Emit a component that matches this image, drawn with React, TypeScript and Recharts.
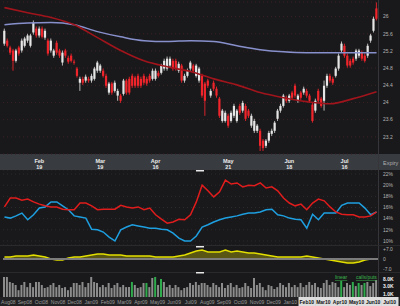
import {
  Area,
  Bar,
  BarChart,
  CartesianGrid,
  Cell,
  ComposedChart,
  Line,
  LineChart,
  ReferenceLine,
  XAxis,
  YAxis,
} from "recharts";

// daily candles, oldest first
const open = [
  25.37, 25.44, 25.28, 25.21, 24.97, 25.28, 25.21, 25.32, 25.44, 25.32,
  25.63, 25.72, 25.56, 25.72, 25.51, 25.44, 25.21, 25.09, 25.39, 25.21,
  24.93, 25.21, 25.04, 25.09, 24.95, 24.79, 24.46, 24.55, 24.51, 24.55,
  24.51, 24.55, 24.74, 24.74, 24.74, 24.62, 24.23, 24.44, 24.27, 24.16,
  24.16, 24.2, 24.51, 24.55, 24.62, 24.58, 24.62, 24.55, 24.62, 24.55,
  24.62, 24.55, 24.55, 24.69, 24.69, 24.79, 24.79, 24.86, 24.97, 24.97,
  24.74, 24.86, 24.51, 24.62, 24.79, 24.86, 24.62, 24.51, 24.62, 24.44,
  24.51, 24.16, 24.46, 24.32, 24.09, 23.57, 23.57, 23.69, 23.57, 23.69,
  23.57, 23.92, 23.81, 23.92, 23.81, 23.46, 23.34, 23.34, 23.34, 23.11,
  22.99, 23.11, 23.27, 23.34, 23.62, 23.81, 23.92, 24.11, 24.04, 24.23,
  24.39, 24.04, 24.23, 24.23, 24.27, 24.16, 23.95, 23.81, 24.27, 24.09,
  24.04, 24.39, 24.62, 24.55, 24.62, 24.79, 25.21, 25.32, 25.09, 24.97,
  25.02, 25.02, 25.09, 25.16, 25.09, 25.09, 25.44, 25.67, 26.19,
];
const high = [
  25.72, 25.49, 25.32, 25.25, 25.25, 25.32, 25.49, 25.53, 25.6, 25.6,
  25.91, 25.77, 25.77, 25.77, 25.72, 25.49, 25.49, 25.25, 25.44, 25.25,
  25.21, 25.25, 25.09, 25.14, 25.0, 24.83, 24.6, 24.6, 24.65, 24.6,
  24.67, 24.83, 24.97, 24.9, 24.79, 24.67, 24.48, 24.48, 24.51, 24.32,
  24.2, 24.55, 24.55, 24.6, 24.67, 24.62, 24.67, 24.6, 24.67, 24.6,
  24.67, 24.79, 24.79, 24.74, 24.9, 25.02, 25.07, 25.07, 25.02, 25.02,
  24.95, 24.9, 24.67, 24.79, 24.97, 24.9, 24.9, 24.83, 24.67, 24.48,
  24.55, 24.32, 24.51, 24.37, 24.13, 23.85, 23.81, 23.74, 23.81, 23.97,
  23.85, 23.97, 24.04, 23.97, 23.85, 23.74, 23.62, 23.5, 23.39, 23.15,
  23.15, 23.34, 23.39, 23.57, 23.85, 23.97, 24.2, 24.16, 24.2, 24.27,
  24.44, 24.2, 24.27, 24.37, 24.32, 24.2, 23.99, 24.09, 24.32, 24.13,
  24.51, 24.67, 24.67, 24.6, 24.83, 25.14, 25.42, 25.37, 25.14, 25.02,
  25.07, 25.25, 25.25, 25.21, 25.14, 25.37, 25.6, 26.0, 26.33,
];
const low = [
  25.32, 25.28, 25.11, 24.74, 24.93, 25.09, 25.16, 25.28, 25.39, 25.28,
  25.58, 25.51, 25.51, 25.49, 25.46, 25.09, 25.16, 25.04, 25.11, 25.04,
  24.86, 25.04, 24.9, 24.93, 24.88, 24.58, 24.27, 24.41, 24.46, 24.46,
  24.46, 24.51, 24.69, 24.69, 24.58, 24.34, 24.18, 24.18, 24.23, 24.04,
  23.99, 24.16, 24.18, 24.18, 24.34, 24.34, 24.34, 24.34, 24.41, 24.39,
  24.46, 24.51, 24.51, 24.58, 24.65, 24.74, 24.74, 24.81, 24.74, 24.74,
  24.69, 24.46, 24.46, 24.58, 24.74, 24.69, 24.58, 24.46, 24.11, 23.69,
  24.34, 24.11, 24.27, 24.11, 23.64, 23.53, 23.53, 23.41, 23.53, 23.64,
  23.53, 23.71, 23.76, 23.57, 23.64, 23.41, 23.29, 23.29, 22.87, 22.87,
  22.94, 23.06, 23.22, 23.29, 23.57, 23.76, 23.88, 23.99, 23.99, 24.06,
  24.11, 23.99, 24.06, 24.18, 24.11, 23.99, 23.53, 23.76, 23.99, 23.88,
  23.81, 24.34, 24.46, 24.41, 24.58, 24.74, 25.16, 25.04, 24.81, 24.81,
  24.88, 24.97, 25.04, 24.97, 24.93, 25.04, 25.39, 25.63, 25.91,
];
const close = [
  25.67, 25.32, 25.16, 24.97, 25.21, 25.14, 25.44, 25.49, 25.56, 25.56,
  25.86, 25.56, 25.72, 25.53, 25.67, 25.14, 25.44, 25.21, 25.16, 25.09,
  25.16, 25.09, 24.95, 24.97, 24.93, 24.62, 24.55, 24.46, 24.6, 24.51,
  24.62, 24.79, 24.93, 24.86, 24.62, 24.39, 24.44, 24.23, 24.46, 24.27,
  24.04, 24.51, 24.23, 24.23, 24.39, 24.39, 24.39, 24.39, 24.46, 24.44,
  24.51, 24.74, 24.74, 24.62, 24.86, 24.97, 25.02, 25.02, 24.79, 24.79,
  24.9, 24.51, 24.62, 24.74, 24.93, 24.74, 24.86, 24.79, 24.16, 24.04,
  24.39, 24.27, 24.32, 24.16, 23.69, 23.81, 23.76, 23.46, 23.76, 23.92,
  23.81, 23.76, 23.99, 23.62, 23.69, 23.69, 23.57, 23.46, 22.99, 22.94,
  23.11, 23.29, 23.34, 23.53, 23.81, 23.92, 24.16, 24.04, 24.16, 24.11,
  24.16, 24.16, 24.11, 24.32, 24.16, 24.04, 23.57, 24.04, 24.04, 23.92,
  24.39, 24.62, 24.51, 24.46, 24.79, 25.09, 25.37, 25.09, 24.86, 24.86,
  24.93, 25.21, 25.21, 25.02, 24.97, 25.32, 25.56, 25.95, 25.95,
];

const maDays = [0, 8, 16, 24, 32, 40, 48, 56, 64, 72, 80, 88, 96, 104, 112, 120, 128];
const maFast = [26.21, 26.09, 25.98, 25.81, 25.51, 25.21, 24.97, 24.83, 24.72, 24.55, 24.41, 24.23, 24.11, 24.02, 23.97, 24.09, 24.25];
const maSlow = [25.81, 25.85, 25.86, 25.81, 25.65, 25.53, 25.44, 25.42, 25.44, 25.42, 25.32, 25.23, 25.18, 25.16, 25.16, 25.16, 25.16];

const priceTicks = [23.2, 23.6, 24, 24.4, 24.8, 25.2, 25.6, 26];
const expiryDays = [12, 33, 52, 77, 98, 117];
const expiryMonths = ["Feb", "Mar", "Apr", "May", "Jun", "Jul"];
const expiryDates = ["19", "19", "16", "21", "18", "16"];

// volatility panel, every second session
const ivRed = [
  16.1, 17.7, 17.7, 17.3, 17.5, 17.0, 16.6, 16.3, 16.1, 16.1,
  15.7, 15.6, 15.6, 16.8, 16.8, 16.3, 15.6, 15.7, 15.7, 15.7,
  16.4, 16.1, 15.9, 16.1, 15.6, 15.9, 14.7, 13.9, 13.2, 13.4,
  13.9, 13.8, 14.7, 17.0, 20.0, 19.0, 17.9, 18.8, 20.9, 20.2,
  20.4, 19.7, 20.0, 19.9, 20.4, 19.5, 19.7, 19.0, 17.7, 16.8,
  16.3, 16.6, 15.6, 16.8, 17.5, 17.2, 16.1, 15.2, 14.8, 14.7,
  14.7, 14.3, 14.3, 14.5, 15.2,
];
const ivBlue = [
  14.3, 14.1, 14.5, 15.0, 13.8, 14.7, 15.9, 16.1, 17.0, 17.0,
  16.3, 15.6, 14.5, 14.3, 14.1, 12.1, 12.0, 11.6, 10.7, 10.0,
  12.0, 12.5, 12.9, 12.7, 12.5, 12.3, 12.3, 12.1, 12.0, 11.4,
  10.5, 10.0, 10.0, 10.9, 12.5, 12.9, 13.4, 13.8, 14.1, 14.3,
  14.5, 14.8, 15.0, 15.0, 15.2, 15.6, 15.7, 14.7, 14.5, 14.1,
  13.9, 13.8, 12.3, 14.8, 13.8, 15.0, 15.0, 15.0, 16.4, 16.8,
  16.8, 16.8, 15.9, 14.7, 15.2,
];
const spread = [
  1.4, 1.4, 2.1, 2.1, 2.1, 2.8, 2.1, 1.4, 0, -0.7,
  -0.7, 0.7, 1.4, 1.4, 2.1, 2.8, 3.5, 3.5, 2.8, 2.8,
  2.8, 2.1, 2.1, 2.1, 2.1, 2.1, 1.4, 1.4, 1.4, 1.4,
  2.1, 2.8, 4.2, 5.6, 6.3, 4.9, 4.9, 4.9, 6.3, 4.9,
  5.6, 4.9, 4.2, 4.2, 3.5, 2.8, 2.1, 1.4, 1.4, 1.4,
  1.4, 1.4, 2.1, 1.4, 0.7, 0, -0.7, -1.4, -2.1, -2.8,
  -2.8, -2.1, -0.7, 0, 0,
];
const ivTicks = [10, 12, 14, 16, 18, 20, 22];
const spreadTicks = [-7, 0, 7];

// volume in thousands, one bar per session
const volumeK = [
  10.6, 10.6, 5.3, 4.6, 3.5, 1.7, 3.5, 5.3, 2.6, 4.6,
  2.6, 5.3, 5.3, 3.5, 2.3, 2.6, 3.5, 4.6, 2.6, 3.5,
  2.3, 2.6, 1.7, 2.6, 4.6, 4.6, 3.5, 5.3, 2.6, 4.6,
  10.6, 5.3, 4.6, 2.6, 3.5, 2.6, 4.6, 2.3, 3.5, 4.6,
  2.6, 3.5, 2.6, 2.6, 5.3, 3.5, 2.3, 2.6, 4.6, 4.6,
  2.6, 9.2, 10.6, 3.5, 8.0, 5.3, 2.6, 3.5, 2.3, 3.5,
  2.6, 1.7, 2.3, 2.6, 4.6, 3.5, 5.3, 3.5, 4.6, 4.6,
  3.5, 2.6, 4.6, 3.5, 2.6, 4.6, 2.3, 3.5, 4.6, 2.6,
  3.5, 2.3, 2.6, 4.6, 3.0, 2.3, 9.2, 3.5, 4.6, 2.6,
  1.7, 3.5, 3.0, 2.0, 2.6, 4.6, 3.5, 2.6, 4.6, 2.6,
  3.5, 2.6, 4.6, 2.6, 3.5, 5.3, 3.5, 4.6, 2.6, 2.3,
  4.6, 7.0, 3.5, 5.3, 4.6, 2.6, 6.1, 2.6, 4.6, 3.5,
  5.3, 3.0, 4.6, 3.5, 4.6, 5.3, 3.0, 4.6, 7.0,
];
const greenBars = [44, 49, 52, 54, 116, 120, 122, 124];
const volumeTicks = [1, 3, 8];

const months = [
  "Aug08", "Sep08", "Oct08", "Nov08", "Dec08", "Jan09", "Feb09", "Mar09",
  "Apr09", "May09", "Jun09", "Jul09", "Aug09", "Sep09", "Oct09", "Nov09",
  "Dec09", "Jan10", "Feb10", "Mar10", "Apr10", "May10", "Jun10", "Jul10",
];
const shownFrom = "Feb10";

const W = 400;
const AXIS_W = 22;
const FONT = "'Liberation Sans', Arial, sans-serif";
const tickStyle = { fill: "#b4b4b4", fontSize: 5, fontFamily: FONT };

const candles = open.map((o, i) => {
  const m = maDays.indexOf(i);
  return {
    i,
    open: o,
    close: close[i],
    range: [low[i], high[i]],
    fast: m >= 0 ? maFast[m] : null,
    slow: m >= 0 ? maSlow[m] : null,
  };
});
const volRows = ivRed.map((r, k) => ({ k, red: r, blue: ivBlue[k], spread: spread[k] }));
const volumeRows = volumeK.map((v, i) => ({ i, v }));
const monthRows = months.map((m) => ({ m, z: 0 }));

const fmtPrice = (v: number) => (Number.isInteger(v) ? String(v) : v.toFixed(1));
const fmtSpread = (v: number) => (v > 0 ? `+${v.toFixed(1)}` : v < 0 ? v.toFixed(1) : "0");

function Candle(props: any) {
  const { x, y, width, height, payload } = props;
  const [lo, hi] = payload.range;
  const k = height / (hi - lo);
  const yo = y + (hi - payload.open) * k;
  const yc = y + (hi - payload.close) * k;
  const up = payload.close >= payload.open;
  const cx = x + width / 2;
  const body = up ? "#e6e6e6" : "#f0252b";
  return (
    <g>
      <line x1={cx} x2={cx} y1={y} y2={y + height} stroke={up ? "#b8b8b8" : "#d8222a"} strokeWidth={1} />
      <rect x={cx - 1.1} y={Math.min(yo, yc)} width={2.2} height={Math.max(1, Math.abs(yc - yo))} fill={body} />
    </g>
  );
}

function ExpiryTick(props: any) {
  const { x, y, payload } = props;
  const k = expiryDays.indexOf(payload.value);
  if (k < 0) return <g />;
  return (
    <g fontFamily={FONT} fontSize={5.5} fontWeight="bold" fill="#ececec" textAnchor="middle">
      <text x={x} y={y + 8.5}>{expiryMonths[k]}</text>
      <text x={x} y={y + 14.5}>{expiryDates[k]}</text>
    </g>
  );
}

// month strip: the months after shownFrom sit on a light band
function MonthTick(props: any) {
  const { x, payload } = props;
  const k = months.indexOf(payload.value);
  const lit = k >= months.indexOf(shownFrom);
  const band = (W - 2) / months.length;
  return (
    <g>
      {lit && <rect x={x - band / 2} y={9} width={band + 0.5} height={9} fill="#dedede" />}
      <text
        x={x}
        y={16}
        textAnchor="middle"
        fontFamily={FONT}
        fontSize={5}
        fontWeight={lit ? "bold" : "normal"}
        fill={lit ? "#111" : "#9a9a9a"}
      >
        {payload.value}
      </text>
    </g>
  );
}

export default function App() {
  return (
    <div
      style={{
        position: "fixed",
        left: 0,
        top: 0,
        width: W,
        height: 306,
        background: "#19191b",
        overflow: "hidden",
      }}
    >
      <div style={{ position: "absolute", left: 0, top: 154, width: W, height: 16, background: "#383b40" }} />
      <div style={{ position: "absolute", left: 0, top: 297, width: W, height: 9, background: "#222224" }} />

      <div style={{ position: "absolute", left: 0, top: 0 }}>
        <ComposedChart width={W} height={170} data={candles} margin={{ top: 2, right: 0, bottom: 0, left: 3 }}>
          <CartesianGrid vertical={false} stroke="#3a2224" strokeDasharray="1 3" />
          <XAxis
            dataKey="i"
            height={16}
            interval={0}
            tickLine={false}
            axisLine={false}
            tickSize={0}
            tickMargin={0}
            tick={(p: any) => <ExpiryTick {...p} />}
          />
          <YAxis
            orientation="right"
            width={AXIS_W}
            domain={[22.8, 26.34]}
            allowDataOverflow
            ticks={priceTicks}
            interval={0}
            tickLine={false}
            axisLine={false}
            tickSize={0}
            tickMargin={5}
            tick={tickStyle}
            tickFormatter={fmtPrice}
          />
          <Line dataKey="slow" type="monotone" stroke="#8890cc" strokeWidth={1.5} dot={false} connectNulls isAnimationActive={false} />
          <Line dataKey="fast" type="monotone" stroke="#a0141c" strokeWidth={1.6} dot={false} connectNulls isAnimationActive={false} />
          <Bar dataKey="range" shape={(p: any) => <Candle {...p} />} isAnimationActive={false} />
        </ComposedChart>
      </div>

      <div style={{ position: "absolute", left: 0, top: 170 }}>
        <LineChart width={W} height={75} data={volRows} margin={{ top: 0, right: 0, bottom: 0, left: 3 }}>
          <CartesianGrid vertical={false} stroke="#2c2c2e" strokeDasharray="1 3" />
          <XAxis type="number" dataKey="k" domain={[-0.25, 64.25]} hide />
          <YAxis
            orientation="right"
            width={AXIS_W}
            domain={[9.28, 22.72]}
            ticks={ivTicks}
            interval={0}
            tickLine={false}
            axisLine={false}
            tickSize={0}
            tickMargin={5}
            tick={tickStyle}
            tickFormatter={(v: number) => `${v}%`}
          />
          <Line dataKey="blue" type="linear" stroke="#1e9fe0" strokeWidth={1.5} dot={false} isAnimationActive={false} />
          <Line dataKey="red" type="linear" stroke="#e01c1c" strokeWidth={1.5} dot={false} isAnimationActive={false} />
        </LineChart>
      </div>

      <div style={{ position: "absolute", left: 0, top: 245 }}>
        <ComposedChart width={W} height={27} data={volRows} margin={{ top: 0, right: 0, bottom: 0, left: 3 }}>
          <XAxis type="number" dataKey="k" domain={[-0.25, 64.25]} hide />
          <YAxis
            orientation="right"
            width={AXIS_W}
            domain={[-9.09, 9.79]}
            ticks={spreadTicks}
            interval={0}
            tickLine={false}
            axisLine={false}
            tickSize={0}
            tickMargin={5}
            tick={tickStyle}
            tickFormatter={fmtSpread}
          />
          <ReferenceLine y={0} stroke="#7c7c7c" strokeWidth={2} />
          <Area
            dataKey="spread"
            type="linear"
            baseValue={0}
            stroke="#e2de00"
            strokeWidth={1.5}
            fill="#5f5d12"
            fillOpacity={0.9}
            isAnimationActive={false}
          />
        </ComposedChart>
      </div>

      <div style={{ position: "absolute", left: 0, top: 272 }}>
        <BarChart width={W} height={25} data={volumeRows} margin={{ top: 0, right: 0, bottom: 0, left: 3 }}>
          <XAxis dataKey="i" hide />
          <YAxis
            orientation="right"
            width={AXIS_W}
            scale="log"
            domain={[0.66, 21.1]}
            allowDataOverflow
            ticks={volumeTicks}
            interval={0}
            tickLine={false}
            axisLine={false}
            tickSize={0}
            tickMargin={5}
            tick={{ ...tickStyle, fill: "#f2f2f2", fontWeight: "bold" }}
            tickFormatter={(v: number) => `${v.toFixed(1)}K`}
          />
          <Bar dataKey="v" barSize={2} isAnimationActive={false}>
            {volumeRows.map((r) => (
              <Cell key={r.i} fill={greenBars.includes(r.i) ? "#2faa4c" : "#8c8c8c"} />
            ))}
          </Bar>
        </BarChart>
      </div>

      <div style={{ position: "absolute", left: 0, top: 288 }}>
        <BarChart width={W} height={18} data={monthRows} margin={{ top: 0, right: 2, bottom: 0, left: 0 }}>
          <XAxis
            dataKey="m"
            height={9}
            interval={0}
            tickLine={false}
            axisLine={false}
            tick={(p: any) => <MonthTick {...p} />}
          />
          <YAxis hide domain={[0, 1]} />
          <Bar dataKey="z" isAnimationActive={false} />
        </BarChart>
      </div>

      <svg width={W} height={306} style={{ position: "absolute", left: 0, top: 0, pointerEvents: "none" }}>
        <line x1={378.5} x2={378.5} y1={0} y2={297} stroke="#36363a" />
        <line x1={0} x2={W} y1={245.5} y2={245.5} stroke="#2a2a2c" />
        <line x1={0} x2={W} y1={272.5} y2={272.5} stroke="#2a2a2c" />
        <g fill="#e8e8e8">
          <rect x={196} y={170} width={8} height={1.5} />
          <rect x={196} y={246} width={8} height={1.5} />
          <rect x={196} y={272} width={8} height={1.5} />
        </g>
        <text x={383} y={164.5} fontFamily={FONT} fontSize={5.5} fill="#b0b0b0">Expiry</text>
        <g fontFamily={FONT} fontSize={5} fill="#3cb64e" textDecoration="underline">
          <text x={335} y={279}>linear</text>
          <text x={356} y={279}>calls/puts</text>
        </g>
      </svg>
    </div>
  );
}
